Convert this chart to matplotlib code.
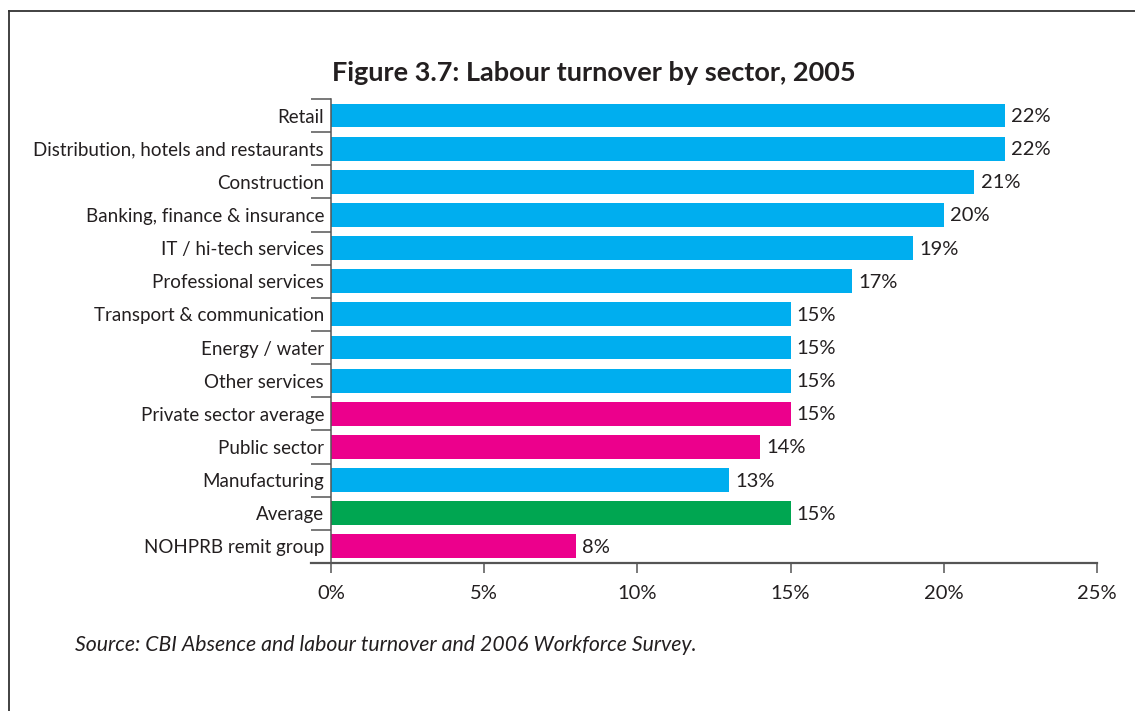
import matplotlib.pyplot as plt
from matplotlib.lines import Line2D
from matplotlib.ticker import FixedLocator, PercentFormatter

sectors = [
    "Retail",
    "Distribution, hotels and restaurants",
    "Construction",
    "Banking, finance & insurance",
    "IT / hi-tech services",
    "Professional services",
    "Transport & communication",
    "Energy / water",
    "Other services",
    "Private sector average",
    "Public sector",
    "Manufacturing",
    "Average",
    "NOHPRB remit group",
]
turnover = [22, 22, 21, 20, 19, 17, 15, 15, 15, 15, 14, 13, 15, 8]
groups = ["sector", "sector", "sector", "sector", "sector", "sector", "sector",
          "sector", "sector", "summary", "summary", "sector", "overall", "summary"]

palette = {"sector": "#00AEEF", "summary": "#EC008C", "overall": "#00A651"}
ink = "#231F20"
axis_grey = "#555555"

plt.rcParams["font.family"] = ["Lato", "DejaVu Sans"]

fig = plt.figure(figsize=(11.35, 7.11), dpi=100)
ax = fig.add_axes([0.2916, 0.2082, 0.6749, 0.6526])

rows = list(range(len(sectors)))
ax.barh(rows, turnover, height=0.72, color=[palette[g] for g in groups])
for y, v in zip(rows, turnover):
    ax.text(v + 0.2, y + 0.03, f"{v}%", va="center", ha="left", fontsize=14.5, color=ink)

ax.set_xlim(0, 25)
ax.set_ylim(len(sectors) - 0.5, -0.5)

ax.set_yticks(rows)
ax.set_yticklabels(sectors, fontsize=13.5, color=ink)
ax.tick_params(axis="y", which="major", length=0, pad=5)
ax.yaxis.set_minor_locator(FixedLocator([r - 0.5 for r in rows] + [len(sectors) - 0.5]))
ax.tick_params(axis="y", which="minor", length=14.4, width=1.1, color=axis_grey)

ax.set_xticks(range(0, 26, 5))
ax.xaxis.set_major_formatter(PercentFormatter(decimals=0))
ax.tick_params(axis="x", length=7, width=1.1, color=axis_grey, labelsize=14.5,
               labelcolor=ink, pad=9)

for side in ("top", "right", "bottom"):
    ax.spines[side].set_visible(False)
ax.spines["left"].set_color(axis_grey)
ax.spines["left"].set_linewidth(1.1)

# bottom axis line runs a little past the category axis on the left
ax.plot([-0.026, 1], [0, 0], transform=ax.transAxes, color=axis_grey,
        lw=1.6, clip_on=False)

fig.text(0.523, 0.897, "Figure 3.7: Labour turnover by sector, 2005",
         ha="center", va="center", fontsize=19.5, fontweight="bold", color=ink)
fig.text(0.066, 0.093, "Source: CBI Absence and labour turnover and 2006 Workforce Survey.",
         ha="left", va="center", fontsize=15.3, style="italic", color=ink)

# frame lines on the top and left of the page
fig.add_artist(Line2D([9 / 1135, 9 / 1135], [0, 1 - 11 / 711],
                      transform=fig.transFigure, color="#333333", lw=1.3))
fig.add_artist(Line2D([9 / 1135, 1], [1 - 11 / 711, 1 - 11 / 711],
                      transform=fig.transFigure, color="#333333", lw=1.3))

fig.savefig("out.png", dpi=100)
